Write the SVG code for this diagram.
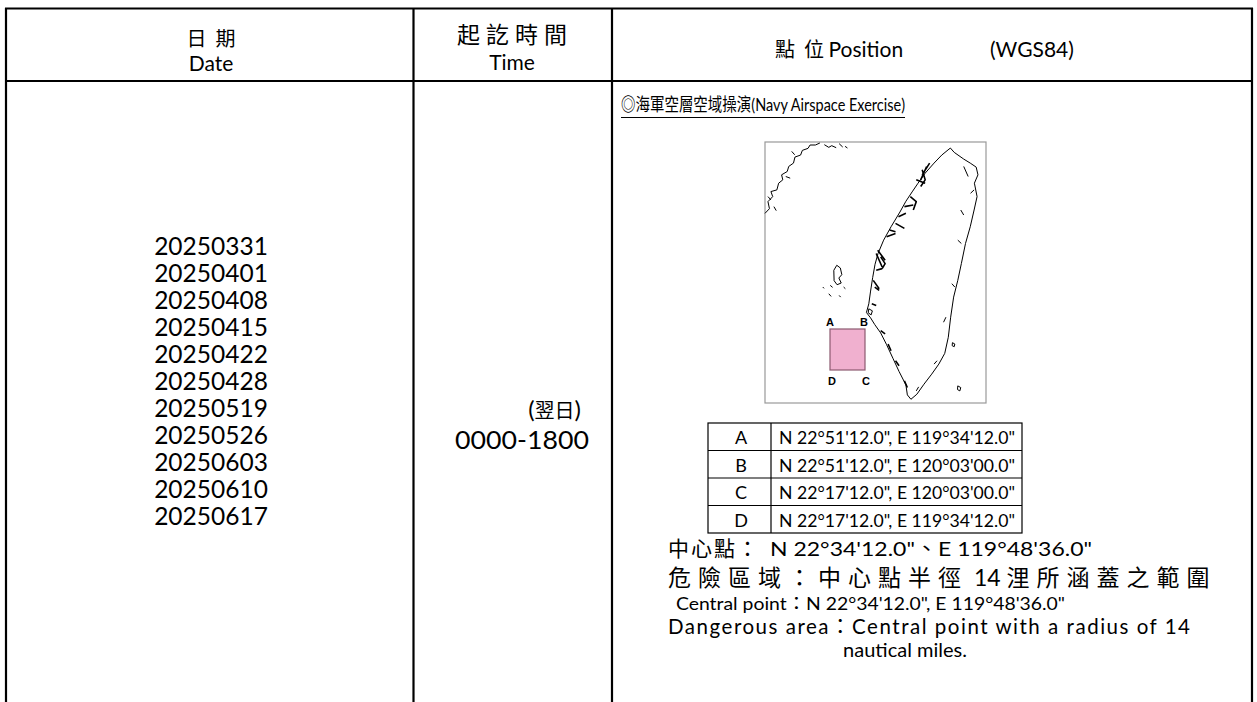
<svg xmlns="http://www.w3.org/2000/svg" width="1257" height="702" viewBox="0 0 1257 702">
<style>
.grid{stroke:#000;stroke-width:2.2;fill:none}
.thin{stroke:#000;stroke-width:1.2;fill:none}
.t{font-family:Lato,"Noto Sans CJK TC",sans-serif;fill:#000}
.cjk{font-family:"Noto Sans CJK TC",sans-serif;fill:#000}
.coast{fill:none;stroke:#000;stroke-width:1;vector-effect:non-scaling-stroke;stroke-linejoin:round}
.dense{fill:none;stroke:#000;stroke-width:1.6;vector-effect:non-scaling-stroke;stroke-linejoin:round}
.lbl{font-family:"Liberation Sans",Arial,sans-serif;font-weight:bold;font-size:11px;fill:#000;text-anchor:middle}
</style>
<rect width="1257" height="702" fill="#fff"/>
<g id="table-grid">
<line class="grid" x1="5" y1="8.5" x2="1253" y2="8.5"/>
<line class="grid" x1="5" y1="81" x2="1253" y2="81"/>
<line class="grid" x1="6" y1="8" x2="6" y2="702"/>
<line class="grid" x1="413.5" y1="8" x2="413.5" y2="702"/>
<line class="grid" x1="612" y1="8" x2="612" y2="702"/>
<line class="grid" x1="1252" y1="8" x2="1252" y2="702"/>
</g>
<g id="header">
<text class="cjk" x="211" y="46" font-size="20" text-anchor="middle" xml:space="preserve">日  期</text>
<text class="t" x="211" y="71" font-size="21" text-anchor="middle">Date</text>
<text class="cjk" x="515" y="43" font-size="23" text-anchor="middle" letter-spacing="6">起訖時間</text>
<text class="t" x="512" y="70" font-size="21" text-anchor="middle">Time</text>
<text class="cjk" x="775" y="57" font-size="20" xml:space="preserve">點  位 <tspan class="t" font-size="21">Position</tspan></text>
<text class="t" x="990" y="57" font-size="21">(WGS84)</text>
</g>
<g id="dates" class="t" font-size="24.5" text-anchor="middle">
<text x="211" y="255">20250331</text>
<text x="211" y="282">20250401</text>
<text x="211" y="309">20250408</text>
<text x="211" y="336">20250415</text>
<text x="211" y="363">20250422</text>
<text x="211" y="390">20250428</text>
<text x="211" y="417">20250519</text>
<text x="211" y="444">20250526</text>
<text x="211" y="471">20250603</text>
<text x="211" y="498">20250610</text>
<text x="211" y="525">20250617</text>
</g>
<g id="time" class="t" font-size="24">
<text x="581" y="418" text-anchor="end">(<tspan class="cjk" font-size="20">翌日</tspan>)</text>
<text x="455" y="449" font-size="25" textLength="134" lengthAdjust="spacingAndGlyphs">0000-1800</text>
</g>
<g id="title">
<text class="t" x="621" y="111" font-size="18" textLength="284" lengthAdjust="spacingAndGlyphs">◎海軍空層空域操演(Navy Airspace Exercise)</text>
<line x1="621" y1="117.5" x2="905" y2="117.5" stroke="#000" stroke-width="1.2"/>
</g>
<g id="map">
<rect x="765" y="142" width="221" height="261" fill="#fff" stroke="#999" stroke-width="1.2"/>
<g transform="translate(756.1 129.6) scale(0.2966 0.335)">
<path class="coast" d="M655 55 L668 68 L700 88 L722 100 L742 112 L748 135 L736 160 L745 200 L735 240 L722 290 L706 340 L692 400 L680 450 L666 500 L656 560 L648 620 L636 668 L616 700 L592 730 L566 760 L542 790 L522 805 L510 792 L505 762 L482 722 L462 684 L440 642 L420 607 L400 582 L386 562 L372 546 L380 520 L386 482 L393 442 L401 402 L411 370 L430 330 L455 290 L485 246 L505 214 L526 186 L546 160 L570 130 L600 100 L626 76 Z"/>
<path class="dense" d="M560 120 l10 30 l-15 20 M575 110 l-20 40 M540 150 l30 10 M585 100 l-25 35 M520 200 l20 15 l-10 25 M500 230 l30 -5 M480 260 l25 -10 M470 280 l30 15 M450 300 l20 5 M440 320 l30 -10 M420 380 l15 20 l-10 15 M410 360 l25 30 M405 370 l20 40 M405 420 l20 -5 M400 470 l15 10 M395 450 l20 25 M390 520 l15 5 M420 600 l15 10 M445 640 l10 20 M470 690 l12 15 M500 750 l10 20"/>
<path class="coast" d="M690 240 l10 15 M680 330 l12 10 M660 460 l10 10 M640 560 l-8 15 M600 700 l10 -10 M700 110 l15 30 M735 180 l-12 10 M540 780 l8 -12"/>
<path class="coast" d="M30 250 L45 236 L40 215 L56 200 L50 185 L70 180 L76 160 L90 150 L86 135 L105 125 L110 110 L126 100 L131 82 L150 76 L156 62 L175 56 L182 46 L200 46 L215 40"/>
<path class="coast" d="M230 45 l15 8 l10 -5 l15 6 M280 42 l12 10 M300 50 l8 5 M120 65 l10 10 M60 230 l8 12 M100 140 l15 5 M40 200 l10 10"/>
<path class="coast" d="M262 420 l10 -15 l12 8 l5 20 l-10 10 l8 15 l-14 5 l-10 -12 z M250 465 l8 6 M295 470 l6 5 M245 490 l8 8 M280 495 l5 5 M225 470 l4 4"/>
<path class="coast" d="M662 636 l8 4 l-2 8 l-7 -3 z M680 765 l10 5 l-3 10 l-8 -4 z M380 535 l12 6 l-4 12 l-10 -6 z"/>
</g>
<rect x="830" y="329" width="35" height="41" fill="#f0b0cf" stroke="#8c5a70" stroke-width="1.2"/>
<text class="lbl" x="830" y="326">A</text>
<text class="lbl" x="864" y="326">B</text>
<text class="lbl" x="832" y="385">D</text>
<text class="lbl" x="866" y="385">C</text>
</g>
<g id="coord-table">
<rect class="thin" x="708" y="423" width="314" height="110"/>
<line class="thin" x1="708" y1="450.5" x2="1022" y2="450.5"/>
<line class="thin" x1="708" y1="478" x2="1022" y2="478"/>
<line class="thin" x1="708" y1="505.5" x2="1022" y2="505.5"/>
<line class="thin" x1="771" y1="423" x2="771" y2="533"/>
<g class="t" font-size="18">
<text x="741" y="444" text-anchor="middle">A</text>
<text x="741" y="471.5" text-anchor="middle">B</text>
<text x="741" y="499" text-anchor="middle">C</text>
<text x="741" y="526.5" text-anchor="middle">D</text>
<text x="779" y="444" textLength="236" lengthAdjust="spacingAndGlyphs">N 22°51'12.0", E 119°34'12.0"</text>
<text x="779" y="471.5" textLength="236" lengthAdjust="spacingAndGlyphs">N 22°51'12.0", E 120°03'00.0"</text>
<text x="779" y="499" textLength="236" lengthAdjust="spacingAndGlyphs">N 22°17'12.0", E 120°03'00.0"</text>
<text x="779" y="526.5" textLength="236" lengthAdjust="spacingAndGlyphs">N 22°17'12.0", E 119°34'12.0"</text>
</g>
</g>
<g id="notes">
<text class="cjk" x="668" y="556" font-size="21" letter-spacing="2">中心點：</text>
<text class="t" x="770" y="556" font-size="20" textLength="322" lengthAdjust="spacingAndGlyphs">N 22°34'12.0"、E 119°48'36.0"</text>
<text class="cjk" x="668" y="586" font-size="23" letter-spacing="7">危險區域：中心點半徑<tspan class="t" font-size="23" letter-spacing="0" xml:space="preserve"> 14 </tspan>浬所涵蓋之範圍</text>
<text class="t" x="676" y="610" font-size="18" textLength="389" lengthAdjust="spacingAndGlyphs">Central point：N 22°34'12.0", E 119°48'36.0"</text>
<text class="t" x="668" y="634" font-size="20.5" textLength="522">Dangerous area：Central point with a radius of 14</text>
<text class="t" x="905" y="657" font-size="20" text-anchor="middle">nautical miles.</text>
</g>
</svg>
